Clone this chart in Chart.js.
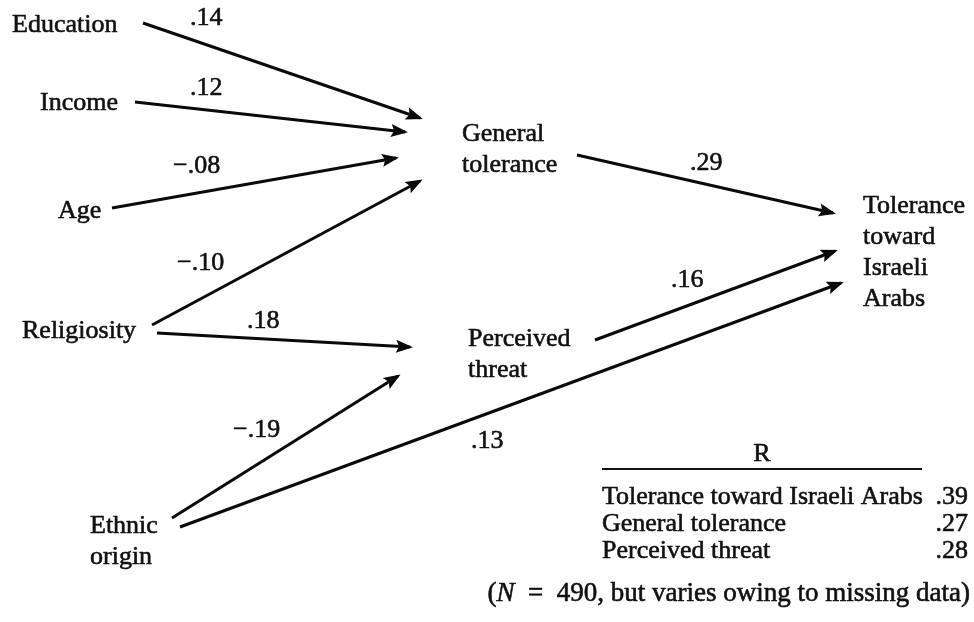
<!DOCTYPE html>
<html>
<head>
<meta charset="utf-8">
<script src="https://cdn.jsdelivr.net/npm/chart.js@4.4.1/dist/chart.umd.min.js"></script>
<style>
  html, body { margin: 0; padding: 0; background: #ffffff; }
  #c { display: block; width: 974px; height: 622px; }
</style>
</head>
<body>
<canvas id="c" width="974" height="622"></canvas>
<script>
// ---------------- DATA ----------------
// variables (nodes) of the path model
const nodeNames = ['Education', 'Income', 'Age', 'Religiosity', 'Ethnic origin',
                   'General tolerance', 'Perceived threat', 'Tolerance toward Israeli Arabs'];
// how each node name is broken into lines in the diagram
const nodeLines = [['Education'], ['Income'], ['Age'], ['Religiosity'], ['Ethnic', 'origin'],
                   ['General', 'tolerance'], ['Perceived', 'threat'], ['Tolerance', 'toward', 'Israeli', 'Arabs']];

// paths (arrows) and their standardized coefficients
const pathFrom  = ['Education', 'Income', 'Age', 'Religiosity', 'Religiosity',
                   'Ethnic origin', 'Ethnic origin', 'General tolerance', 'Perceived threat'];
const pathTo    = ['General tolerance', 'General tolerance', 'General tolerance', 'General tolerance',
                   'Perceived threat', 'Perceived threat', 'Tolerance toward Israeli Arabs',
                   'Tolerance toward Israeli Arabs', 'Tolerance toward Israeli Arabs'];
const pathCoef  = [0.14, 0.12, -0.08, -0.10, 0.18, -0.19, 0.13, 0.29, 0.16];

// multiple correlations table
const rLabels = ['Tolerance toward Israeli Arabs', 'General tolerance', 'Perceived threat'];
const rValues = [0.39, 0.27, 0.28];
const sampleN = 490;

// ---------------- LAYOUT (diagram space = 974 x 622) ----------------
const nodeX = [12, 40, 58, 22, 90, 462, 468, 863];
const nodeY = [32, 110, 218, 338, 533, 141, 346, 213];
const lineStep = 31;

const arrowX0 = [143, 135, 112, 152, 157, 172, 180, 577, 595];
const arrowY0 = [ 23, 102, 208, 325, 333, 518, 527, 155, 340];
const arrowX1 = [420, 405, 396, 420, 410, 398, 841, 833, 835];
const arrowY1 = [118, 132, 158, 181, 347, 376, 283, 213, 251];

const coefX = [190, 190, 173, 177, 247, 233, 471, 690, 671];
const coefY = [ 25,  95, 173, 270, 328, 437, 448, 170, 287];

const tableLeft = 602, tableRuleRight = 922, tableValRight = 968;
const tableHeadY = 461, tableRuleY = 469, tableRowY0 = 504, tableRowStep = 27;
const footRight = 970, footY = 601;

// ---------------- HELPERS ----------------
const FONT = '"Liberation Serif", "Times New Roman", Times, serif';
function fmtCoef(v) {
  const s = Math.abs(v).toFixed(2).replace(/^0/, '');
  return (v < 0 ? '\u2212' : '') + s;
}

const datasets = pathCoef.map((c, i) => ({
  label: pathFrom[i] + ' \u2192 ' + pathTo[i],
  data: [{ x: arrowX0[i], y: arrowY0[i] }, { x: arrowX1[i], y: arrowY1[i] }],
  showLine: true,
  borderColor: '#0a0a0a',
  borderWidth: 3,
  borderCapStyle: 'butt',
  pointRadius: 0,
  pointHoverRadius: 0,
  fill: false,
  tension: 0
}));

function inkText(ctx, t, x, y) {
  ctx.fillText(t, x, y);
  ctx.strokeText(t, x, y);
}

const diagramPlugin = {
  id: 'pathDiagram',
  afterDatasetsDraw(chart) {
    const ctx = chart.ctx;
    const xs = chart.scales.x, ys = chart.scales.y;
    const px = v => xs.getPixelForValue(v);
    const py = v => ys.getPixelForValue(v);
    ctx.save();

    // arrowheads
    ctx.fillStyle = '#0a0a0a';
    pathCoef.forEach((c, i) => {
      const x0 = px(arrowX0[i]), y0 = py(arrowY0[i]);
      const x1 = px(arrowX1[i]), y1 = py(arrowY1[i]);
      const len = Math.hypot(x1 - x0, y1 - y0);
      const dx = (x1 - x0) / len, dy = (y1 - y0) / len;
      const nx = -dy, ny = dx;
      const L = 17, W = 6.5;
      const tx = x1 + dx * 3, ty = y1 + dy * 3;
      const bx = tx - dx * L, by = ty - dy * L;
      const mx = tx - dx * (L - 3), my = ty - dy * (L - 3);
      ctx.beginPath();
      ctx.moveTo(tx, ty);
      ctx.lineTo(bx + nx * W, by + ny * W);
      ctx.lineTo(mx, my);
      ctx.lineTo(bx - nx * W, by - ny * W);
      ctx.closePath();
      ctx.fill();
    });

    // text style: dark, slightly heavy like the printed original
    ctx.fillStyle = '#111';
    ctx.strokeStyle = '#111';
    ctx.lineWidth = 0.6;
    ctx.lineJoin = 'round';
    ctx.textBaseline = 'alphabetic';
    ctx.textAlign = 'left';
    ctx.font = '26px ' + FONT;

    // node labels
    nodeNames.forEach((n, i) => {
      nodeLines[i].forEach((t, k) => {
        inkText(ctx, t, px(nodeX[i]), py(nodeY[i] + k * lineStep));
      });
    });

    // path coefficients
    pathCoef.forEach((c, i) => {
      inkText(ctx, fmtCoef(c), px(coefX[i]), py(coefY[i]));
    });

    // R table
    const midX = (px(tableLeft) + px(tableRuleRight)) / 2;
    ctx.textAlign = 'center';
    inkText(ctx, 'R', midX, py(tableHeadY));
    ctx.save();
    ctx.lineWidth = 2;
    ctx.beginPath();
    ctx.moveTo(px(tableLeft), py(tableRuleY));
    ctx.lineTo(px(tableRuleRight), py(tableRuleY));
    ctx.stroke();
    ctx.restore();
    rLabels.forEach((lab, k) => {
      const y = py(tableRowY0 + k * tableRowStep);
      ctx.textAlign = 'left';
      inkText(ctx, lab, px(tableLeft), y);
      ctx.textAlign = 'right';
      inkText(ctx, fmtCoef(rValues[k]), px(tableValRight), y);
    });

    // footnote: (N = 490, but varies owing to missing data)
    const segs = [
      ['(', 'normal'],
      ['N', 'italic'],
      ['  =  ', 'normal'],
      [sampleN + ', but varies owing to missing data)', 'normal']
    ];
    const fsz = 27;
    let total = 0;
    segs.forEach(s => { ctx.font = (s[1] === 'italic' ? 'italic ' : '') + fsz + 'px ' + FONT; total += ctx.measureText(s[0]).width; });
    let x = px(footRight) - total;
    ctx.textAlign = 'left';
    segs.forEach(s => {
      ctx.font = (s[1] === 'italic' ? 'italic ' : '') + fsz + 'px ' + FONT;
      inkText(ctx, s[0], x, py(footY));
      x += ctx.measureText(s[0]).width;
    });

    ctx.restore();
  }
};

new Chart(document.getElementById('c'), {
  type: 'scatter',
  data: { datasets },
  options: {
    responsive: false,
    animation: false,
    events: [],
    layout: { padding: 0 },
    scales: {
      x: { type: 'linear', min: 0, max: 974, display: false },
      y: { type: 'linear', min: 0, max: 622, reverse: true, display: false }
    },
    plugins: { legend: { display: false }, tooltip: { enabled: false }, title: { display: false } }
  },
  plugins: [diagramPlugin]
});
</script>
</body>
</html>
